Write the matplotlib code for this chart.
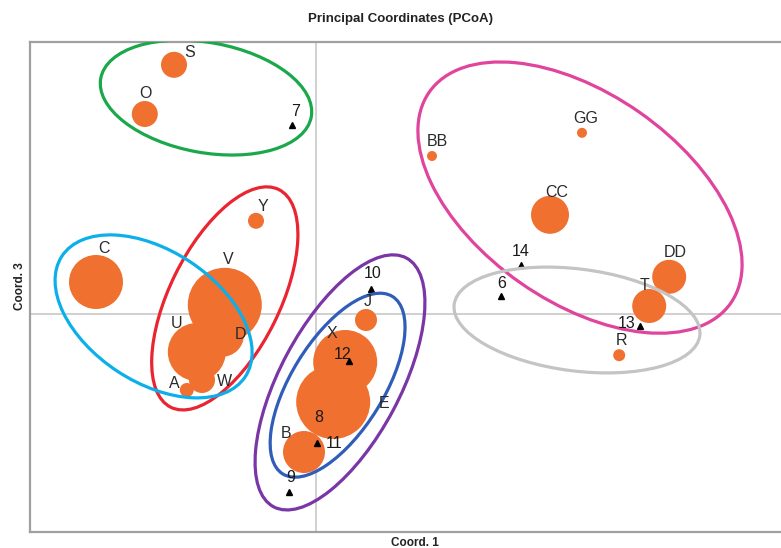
import numpy as np
import matplotlib.pyplot as plt
from matplotlib.patches import Ellipse

plt.rcParams['font.family'] = ['Liberation Sans', 'DejaVu Sans']

# samples (orange bubbles): PCoA coords 1 and 3, bubble value
samples = ['S', 'O', 'Y', 'C', 'V', 'U', 'D', 'W', 'A', 'J', 'X', 'E', 'B',
           'BB', 'GG', 'CC', 'DD', 'T', 'R']
samp_x = [-0.355, -0.428, -0.150, -0.550, -0.228, -0.298, -0.235, -0.285, -0.323,
          0.125, 0.073, 0.043, -0.030, 0.290, 0.665, 0.585, 0.883, 0.833, 0.758]
samp_y = [0.623, 0.500, 0.233, 0.080, 0.023, -0.095, -0.052, -0.165, -0.190,
          -0.015, -0.120, -0.220, -0.345, 0.395, 0.453, 0.248, 0.093, 0.020, -0.103]
samp_val = [13, 13, 8, 27, 37, 29, 22, 13, 7, 11, 32, 37, 21, 5, 5, 19, 17, 17, 6]

# sites (triangles)
sites = ['7', '10', '12', '8', '11', '9', '14', '6', '13']
site_x = [-0.060, 0.138, 0.083, 0.008, 0.003, -0.068, 0.513, 0.463, 0.810]
site_y = [0.473, 0.063, -0.118, -0.285, -0.322, -0.445, 0.123, 0.045, -0.030]

# group ellipses
ell_cx = [-0.275, -0.228, -0.406, 0.060, 0.054, 0.660, 0.6525]
ell_cy = [0.541, 0.039, -0.006, -0.171, -0.178, 0.291, -0.015]
ell_w = [0.535, 0.6075, 0.5485, 0.705, 0.5215, 0.92, 0.619]
ell_h = [0.275, 0.275, 0.3285, 0.30, 0.231, 0.52, 0.255]
ell_ang = [-10.4, 63.6, -33.3, 61.9, 58.3, -35.0, -7.2]
ell_col = ['#1ba84b', '#ea2430', '#0bb0ea', '#7a35a6', '#2f5db8', '#e0449c', '#c4c4c4']

# label offsets in pixels
samp_off = [(16, 12), (1, 21), (7, 14), (8, 34), (3, 45), (-20, 28), (18, 0), (22, -1),
            (-13, 6), (2, 18), (-13, 29), (51, -2), (-18, 19), (5, 15), (4, 14),
            (7, 22), (6, 24), (-5, 21), (2, 15)]
site_off = [(4, 13), (1, 15), (-7, 7), (0, 10), (17, -1), (2, 14), (-1, 13), (0, 13), (-13, 3)]

fig = plt.figure(figsize=(7.81, 5.48), dpi=100)
ax = fig.add_axes([30 / 781, 16 / 548, 770 / 781, 490 / 548])
ax.set_xlim(-0.715, 1.21)
ax.set_ylim(-0.545, 0.68)

ax.axhline(0, color='#c8c8c8', lw=1.2, zorder=0)
ax.axvline(0, color='#c8c8c8', lw=1.2, zorder=0)

s = [(1.44 * v) ** 2 for v in samp_val]
ax.scatter(samp_x, samp_y, s=s, color='#f07030', edgecolors='none', zorder=3)

# site 8 sits under its bubble, only its label shows
for i in range(len(sites)):
    if sites[i] != '8':
        ax.plot(site_x[i], site_y[i], marker='^', color='black', ms=5, zorder=4)

for i in range(len(ell_cx)):
    e = Ellipse((ell_cx[i], ell_cy[i]), ell_w[i], ell_h[i], angle=ell_ang[i],
                fill=False, edgecolor=ell_col[i], lw=2.3, zorder=5)
    ax.add_patch(e)

for i, lab in enumerate(samples):
    ax.annotate(lab, (samp_x[i], samp_y[i]), xytext=samp_off[i], textcoords='offset pixels',
                ha='center', va='center', fontsize=11.5, color='#2a2a2a', zorder=6)
for i, lab in enumerate(sites):
    ax.annotate(lab, (site_x[i], site_y[i]), xytext=site_off[i], textcoords='offset pixels',
                ha='center', va='center', fontsize=11.5, color='#1a1a1a', zorder=6)

ax.set_xticks([])
ax.set_yticks([])
for sp in ['left', 'top', 'bottom']:
    ax.spines[sp].set_color('#a0a0a0')
    ax.spines[sp].set_linewidth(1.6)
ax.spines['right'].set_visible(False)

fig.text(400 / 781, 1 - 19 / 548, 'Principal Coordinates (PCoA)', ha='center', va='center',
         fontsize=9.5, fontweight='bold', color='#222222')
fig.text(415 / 781, 1 - 543 / 548, 'Coord. 1', ha='center', va='center',
         fontsize=8.5, fontweight='bold', color='#222222')
fig.text(20 / 781, 1 - 286 / 548, 'Coord. 3', ha='center', va='center', rotation=90,
         fontsize=8.5, fontweight='bold', color='#222222')

fig.savefig('out.png', dpi=100)
